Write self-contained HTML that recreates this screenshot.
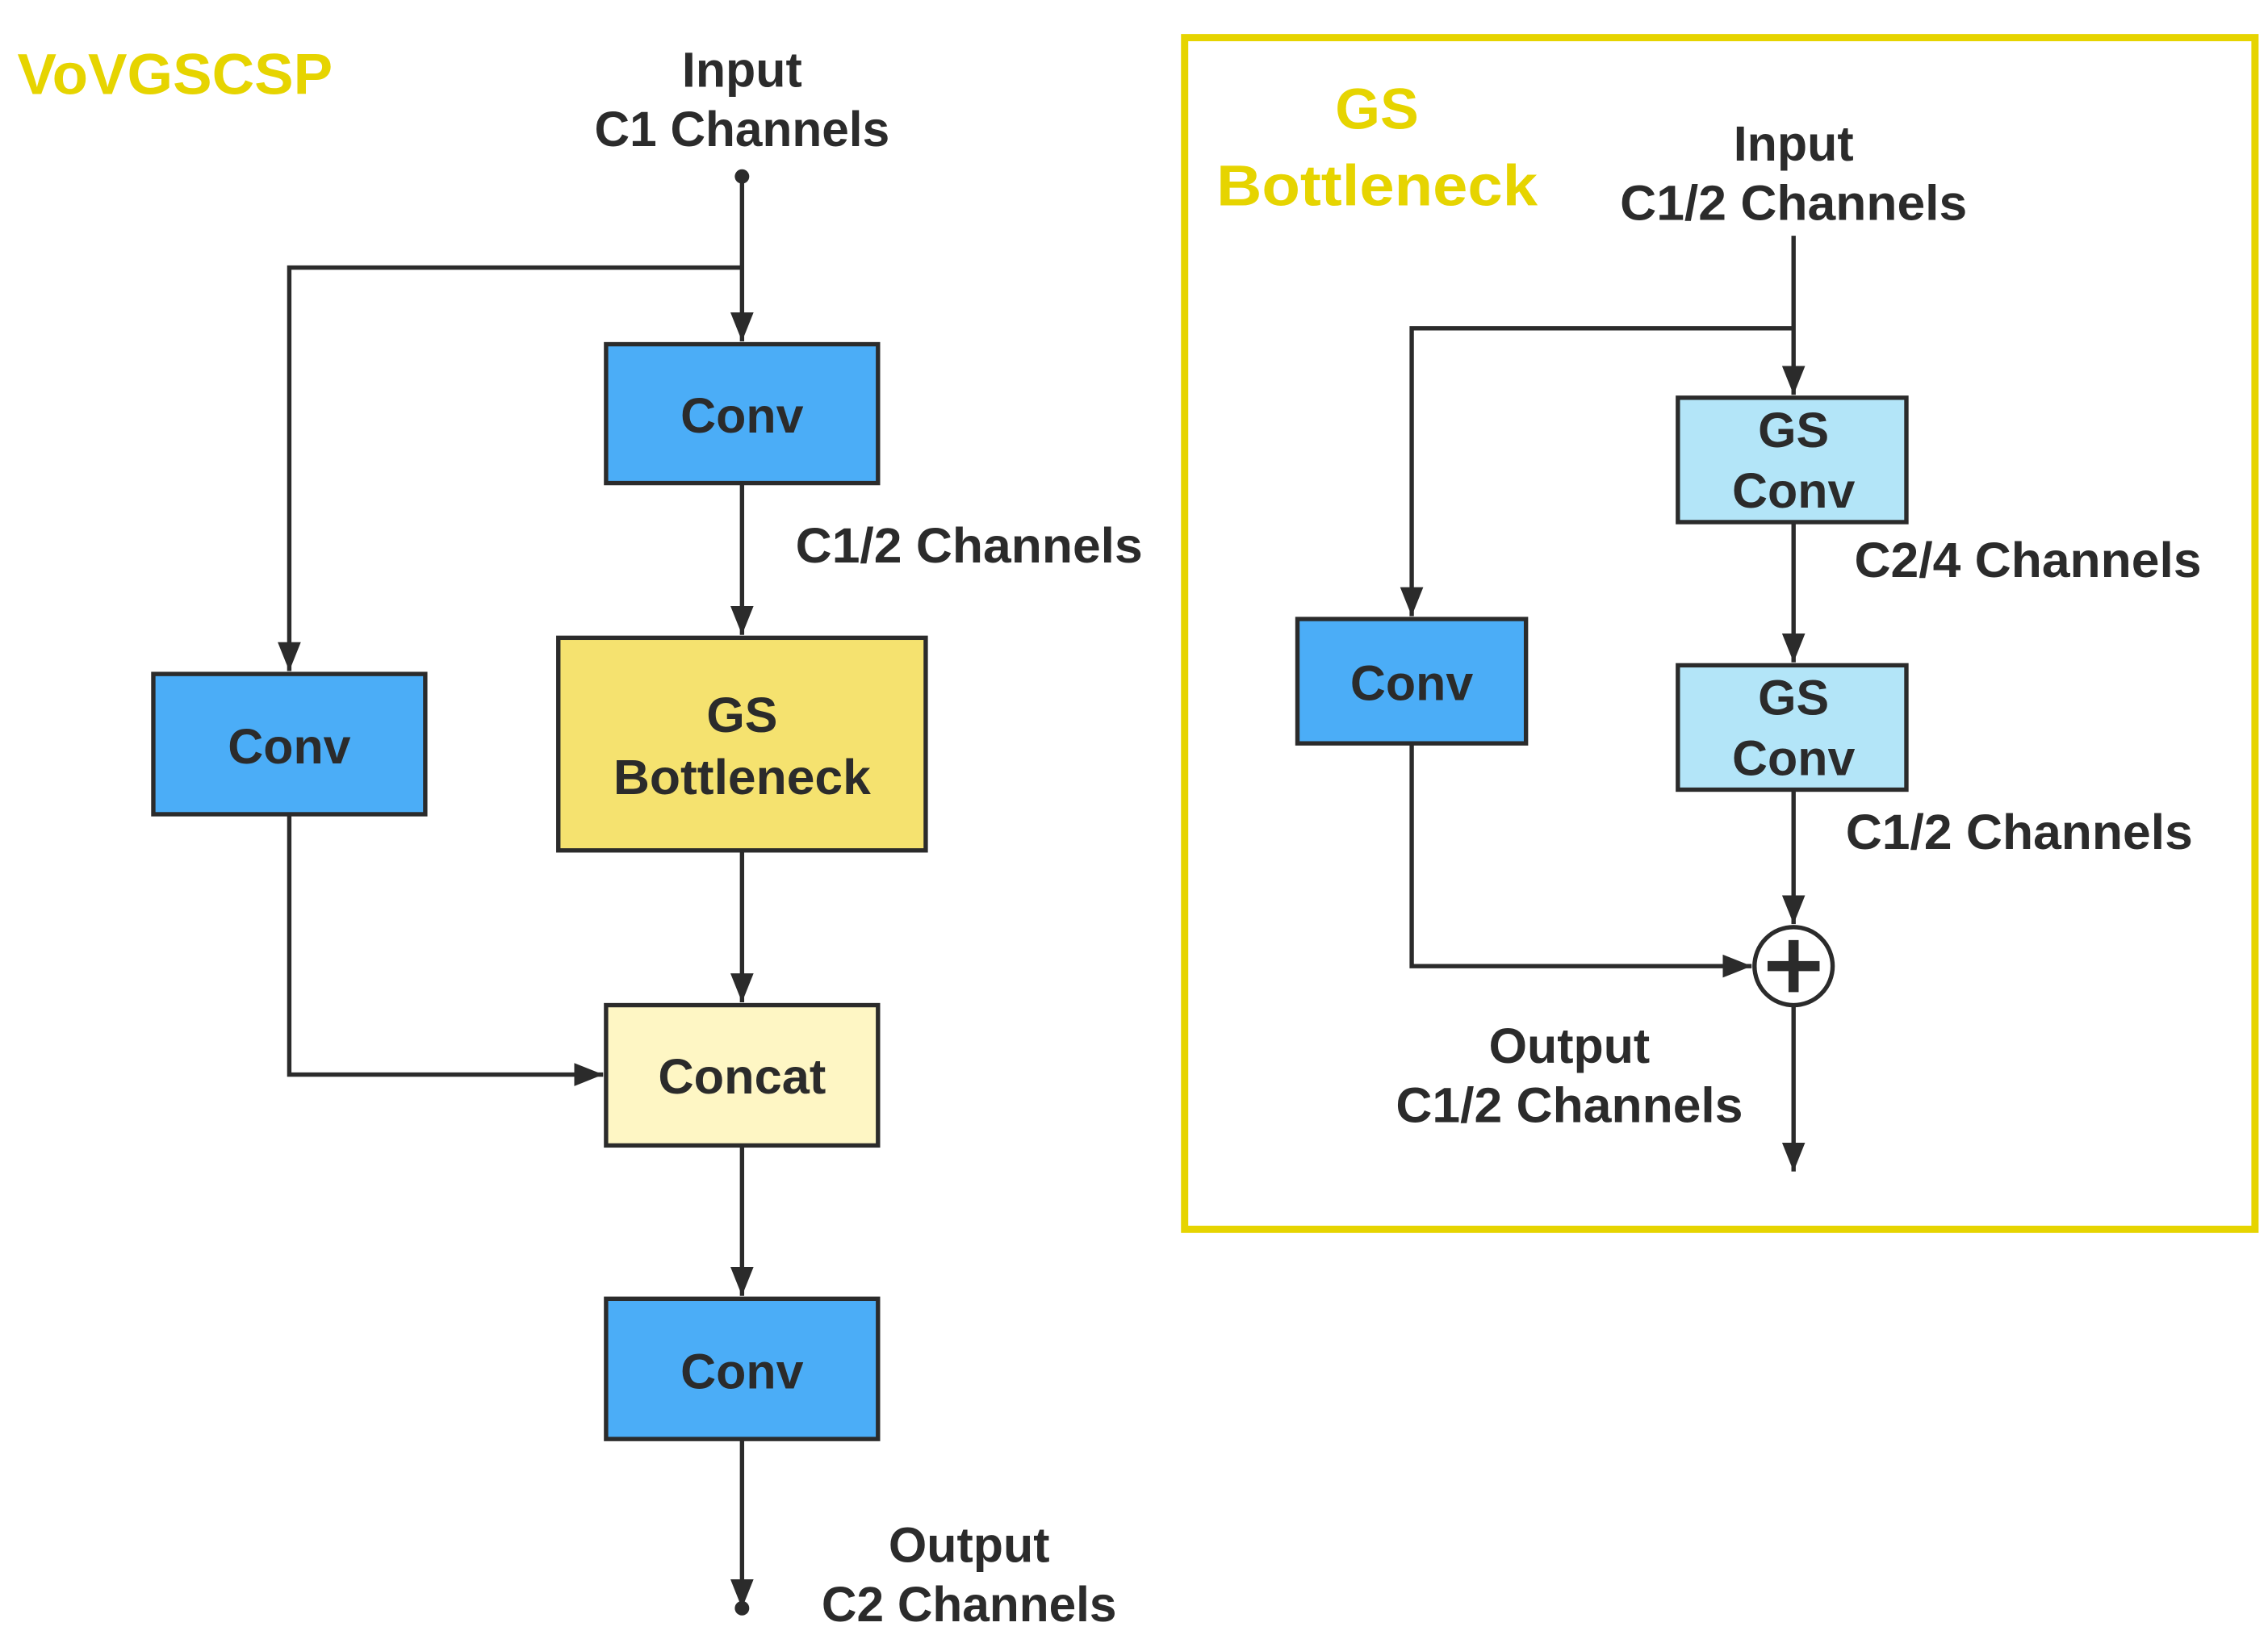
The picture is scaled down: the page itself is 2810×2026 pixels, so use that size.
<!DOCTYPE html>
<html><head><meta charset="utf-8"><style>html,body{margin:0;padding:0;background:#fff}svg{display:block}</style></head>
<body>
<svg width="2810" height="2026" viewBox="0 0 1568 1130.5" xmlns="http://www.w3.org/2000/svg" font-family="Liberation Sans, sans-serif" font-weight="bold">
<defs>
<marker id="b" markerWidth="20" markerHeight="20" refX="20" refY="10" orient="auto" markerUnits="userSpaceOnUse"><path d="M0,2 L20,10 L0,18 z" fill="#2b2b2b"/></marker>
</defs>
<g stroke="#2b2b2b" stroke-width="3" fill="none">
<path d="M513,122 V236" marker-end="url(#b)"/>
<path d="M513,185 H200 V464" marker-end="url(#b)"/>
<path d="M513,334 V439" marker-end="url(#b)"/>
<path d="M513,588 V693" marker-end="url(#b)"/>
<path d="M200,563 V743 H417" marker-end="url(#b)"/>
<path d="M513,792 V896" marker-end="url(#b)"/>
<path d="M513,995 V1112" marker-end="url(#b)"/>
<path d="M1240,163 V273" marker-end="url(#b)"/>
<path d="M1240,227 H976 V426" marker-end="url(#b)"/>
<path d="M1240,361 V458" marker-end="url(#b)"/>
<path d="M1240,546 V639" marker-end="url(#b)"/>
<path d="M976,514 V668 H1211" marker-end="url(#b)"/>
<path d="M1240,695 V810" marker-end="url(#b)"/>
</g>
<circle cx="513" cy="122" r="5" fill="#2b2b2b"/>
<circle cx="513" cy="1112" r="5" fill="#2b2b2b"/>
<g stroke="#2b2b2b" stroke-width="3">
<rect x="419" y="238" width="188" height="96" fill="#4badf7"/>
<rect x="386" y="441" width="254" height="147" fill="#f5e26f"/>
<rect x="106" y="466" width="188" height="97" fill="#4badf7"/>
<rect x="419" y="695" width="188" height="97" fill="#fef6c4"/>
<rect x="419" y="898" width="188" height="97" fill="#4badf7"/>
<rect x="1160" y="275" width="158" height="86" fill="#b3e5f8"/>
<rect x="1160" y="460" width="158" height="86" fill="#b3e5f8"/>
<rect x="897" y="428" width="158" height="86" fill="#4badf7"/>
<circle cx="1240" cy="668" r="27" fill="#fff"/>
</g>
<path d="M1240,650 V686 M1222,668 H1258" stroke="#2b2b2b" stroke-width="7"/>
<rect x="819" y="26" width="740" height="824" fill="none" stroke="#e6d400" stroke-width="5"/>
<g fill="#2b2b2b" font-size="34" text-anchor="middle">
<text x="513" y="60">Input</text>
<text x="513" y="101" textLength="204" lengthAdjust="spacingAndGlyphs">C1 Channels</text>
<text x="513" y="299">Conv</text>
<text x="670" y="389" textLength="240" lengthAdjust="spacingAndGlyphs">C1/2 Channels</text>
<text x="513" y="506">GS</text>
<text x="513" y="549" textLength="178" lengthAdjust="spacingAndGlyphs">Bottleneck</text>
<text x="200" y="528">Conv</text>
<text x="513" y="756" textLength="116" lengthAdjust="spacingAndGlyphs">Concat</text>
<text x="513" y="960">Conv</text>
<text x="670" y="1080">Output</text>
<text x="670" y="1121" textLength="204" lengthAdjust="spacingAndGlyphs">C2 Channels</text>
<text x="1240" y="111">Input</text>
<text x="1240" y="152" textLength="240" lengthAdjust="spacingAndGlyphs">C1/2 Channels</text>
<text x="1240" y="309">GS</text>
<text x="1240" y="351">Conv</text>
<text x="1402" y="399" textLength="240" lengthAdjust="spacingAndGlyphs">C2/4 Channels</text>
<text x="1240" y="494">GS</text>
<text x="1240" y="536">Conv</text>
<text x="976" y="484">Conv</text>
<text x="1396" y="587" textLength="240" lengthAdjust="spacingAndGlyphs">C1/2 Channels</text>
<text x="1085" y="735">Output</text>
<text x="1085" y="776" textLength="240" lengthAdjust="spacingAndGlyphs">C1/2 Channels</text>
</g>
<g fill="#e6d400" font-size="40">
<text x="12" y="65" textLength="218" lengthAdjust="spacingAndGlyphs">VoVGSCSP</text>
<text x="952" y="89" text-anchor="middle">GS</text>
<text x="952" y="142" text-anchor="middle" textLength="222" lengthAdjust="spacingAndGlyphs">Bottleneck</text>
</g>
</svg>
</body></html>
